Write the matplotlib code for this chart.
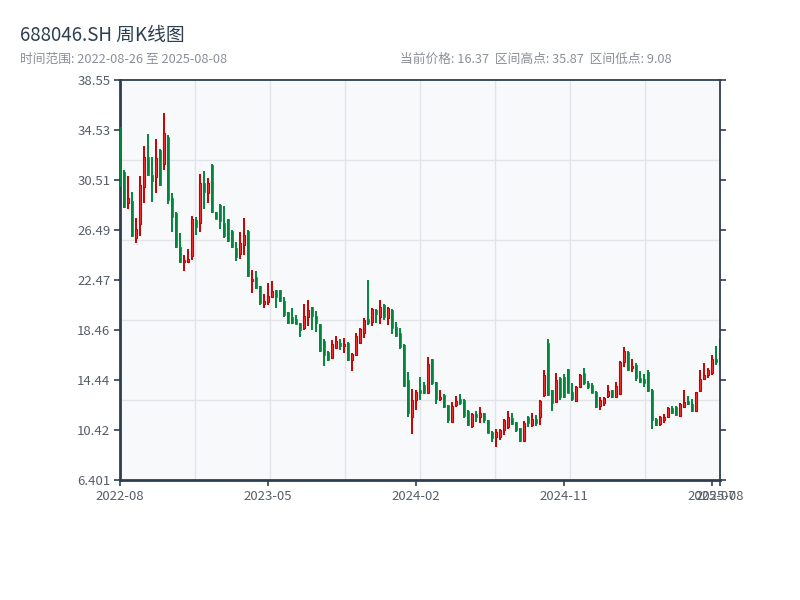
import numpy as np
import pandas as pd
import matplotlib
matplotlib.use("Agg")
import matplotlib.pyplot as plt

plt.rcParams['font.family'] = ['Noto Sans CJK SC', 'DejaVu Sans']

code = "688046.SH"

# weekly bars, weeks with no trading day are missing
closed_weeks = ['2022-10-07', '2023-01-27', '2023-10-06', '2024-02-16']
dates = pd.date_range('2022-08-26', '2025-08-08', freq='W-FRI')
dates = dates[~dates.isin(pd.to_datetime(closed_weeks))]

opens = [34.75, 31.18, 28.69, 28.85, 25.88, 26.98, 29.98, 32.39, 30.91, 30.78,
         32.90, 31.80, 34.00, 29.04, 27.89, 25.15, 23.95, 23.92, 24.43, 27.30,
         27.03, 30.25, 29.44, 31.72, 27.91, 28.53, 27.08, 27.35, 26.44, 25.02,
         24.56, 25.29, 26.44, 22.39, 22.74, 21.99, 20.52, 20.73, 21.13, 21.67,
         21.67, 20.81, 19.90, 19.52, 19.36, 18.99, 18.59, 19.52, 20.30, 19.58,
         18.93, 17.59, 16.71, 16.23, 17.03, 17.43, 17.17, 17.43, 16.04, 16.45,
         17.45, 18.19, 19.31, 19.13, 20.07, 19.53, 20.47, 19.40, 20.07, 18.67,
         18.19, 17.22, 14.44, 11.49, 12.83, 13.64, 14.04, 13.42, 16.10, 14.28,
         12.94, 13.23, 12.40, 11.09, 12.43, 12.88, 12.83, 11.97, 10.74, 11.70,
         11.44, 11.75, 11.22, 10.28, 9.82, 9.88, 10.41, 10.68, 11.35, 11.03,
         10.55, 9.53, 11.48, 10.81, 11.27, 11.48, 13.22, 17.38, 13.63, 12.69,
         14.62, 14.70, 15.29, 13.49, 12.77, 13.90, 15.02, 14.22, 14.03, 13.49,
         12.34, 12.56, 13.14, 13.63, 13.09, 13.28, 15.90, 16.71, 15.37, 15.64,
         14.56, 14.48, 15.10, 13.63, 11.30, 10.89, 11.22, 11.48, 12.21, 12.29,
         11.54, 12.29, 12.77, 12.50, 11.94, 13.55, 14.48, 14.83, 14.97, 16.12,
         15.90]
highs = [34.85, 31.32, 30.83, 29.58, 27.46, 30.83, 33.25, 34.21, 32.39, 33.81,
         33.01, 35.87, 34.13, 29.44, 27.97, 26.25, 24.48, 24.97, 27.62, 27.57,
         30.99, 31.24, 30.65, 31.80, 27.97, 28.58, 28.40, 27.40, 26.49, 25.50,
         26.33, 27.43, 26.49, 23.27, 23.20, 22.00, 21.32, 22.20, 22.39, 21.70,
         21.70, 21.11, 19.93, 20.22, 19.63, 19.04, 20.52, 20.86, 20.33, 19.98,
         18.96, 17.70, 16.74, 17.65, 17.99, 17.73, 17.78, 17.46, 16.58, 18.19,
         18.60, 19.40, 22.48, 20.20, 20.12, 20.87, 20.55, 20.28, 20.15, 19.07,
         18.62, 17.33, 15.08, 13.69, 13.64, 14.65, 14.30, 16.26, 16.13, 14.30,
         13.64, 13.29, 12.45, 12.64, 13.15, 13.31, 12.88, 12.03, 11.76, 11.97,
         12.29, 11.78, 11.25, 10.36, 10.46, 10.52, 11.27, 11.94, 11.81, 11.05,
         10.60, 11.16, 11.54, 11.75, 11.62, 12.82, 15.24, 17.73, 13.66, 14.97,
         14.70, 14.91, 15.32, 14.16, 13.95, 14.91, 15.37, 14.35, 14.16, 13.52,
         13.09, 13.09, 14.03, 13.66, 14.30, 15.96, 17.11, 16.79, 16.12, 15.82,
         15.18, 14.91, 15.24, 13.71, 11.35, 11.54, 11.67, 12.29, 12.34, 12.34,
         12.56, 13.63, 13.14, 12.88, 13.49, 15.24, 15.77, 15.37, 16.44, 17.16,
         17.75]
lows = [29.92, 28.24, 28.16, 25.96, 25.48, 26.01, 28.69, 30.83, 28.77, 29.44,
        30.00, 31.32, 28.56, 26.36, 25.02, 23.81, 23.22, 23.87, 24.08, 26.09,
        26.36, 28.16, 28.69, 27.89, 27.35, 26.55, 25.85, 25.53, 25.07, 24.03,
        24.14, 24.48, 22.74, 21.45, 21.72, 20.46, 20.25, 20.46, 21.08, 20.25,
        20.73, 19.52, 18.91, 18.91, 18.90, 17.92, 18.45, 18.80, 18.45, 18.32,
        16.71, 15.59, 15.96, 16.12, 16.98, 16.84, 16.58, 15.98, 15.16, 16.39,
        17.30, 17.84, 18.86, 18.78, 18.99, 18.94, 19.26, 18.86, 18.14, 17.92,
        16.93, 13.90, 11.46, 10.10, 12.03, 12.83, 13.31, 13.31, 14.04, 12.51,
        12.78, 12.21, 11.01, 11.03, 12.24, 12.43, 11.36, 10.77, 10.55, 11.09,
        11.01, 10.95, 10.14, 9.47, 9.08, 9.61, 10.04, 10.46, 10.81, 10.28,
        9.47, 9.47, 10.68, 10.68, 10.73, 10.81, 13.09, 13.14, 11.97, 12.61,
        12.82, 12.96, 13.36, 12.77, 12.69, 13.84, 14.03, 13.68, 13.36, 12.21,
        12.02, 12.37, 13.01, 13.01, 13.01, 13.22, 15.45, 15.18, 15.10, 14.35,
        14.22, 13.84, 13.49, 10.46, 10.73, 10.73, 10.95, 11.43, 11.67, 11.54,
        11.48, 12.15, 12.42, 11.89, 11.89, 13.49, 14.43, 14.56, 14.83, 15.64,
        15.55]
closes = [30.05, 28.37, 29.04, 26.01, 26.57, 30.11, 32.36, 30.89, 30.46, 32.26,
          30.10, 34.26, 28.90, 27.57, 25.10, 23.95, 24.08, 24.14, 27.38, 26.76,
          30.25, 29.58, 30.30, 27.97, 27.41, 27.24, 26.01, 25.61, 25.15, 24.35,
          25.42, 26.09, 22.79, 22.55, 21.80, 20.60, 20.81, 21.19, 21.59, 21.13,
          20.81, 19.66, 18.99, 18.99, 18.95, 18.45, 19.58, 20.06, 19.58, 18.99,
          16.79, 16.44, 16.04, 17.30, 17.57, 17.19, 17.30, 16.02, 16.50, 18.00,
          18.50, 19.26, 19.05, 20.12, 19.72, 20.33, 19.53, 20.20, 18.59, 17.98,
          17.12, 13.96, 11.76, 12.83, 13.50, 13.42, 13.42, 15.70, 14.17, 12.88,
          13.10, 12.29, 11.22, 12.35, 12.78, 12.56, 11.54, 10.82, 11.70, 11.49,
          11.81, 11.22, 10.20, 9.74, 10.28, 10.41, 11.22, 11.48, 10.87, 10.41,
          9.53, 10.95, 10.95, 11.27, 10.95, 12.77, 14.83, 13.22, 12.55, 14.43,
          13.09, 13.09, 13.41, 12.88, 13.90, 14.83, 14.16, 13.90, 13.41, 12.25,
          12.82, 12.96, 13.55, 13.09, 13.95, 15.85, 16.79, 15.24, 15.58, 14.56,
          14.30, 14.16, 13.55, 11.22, 10.81, 11.43, 11.43, 12.15, 11.81, 11.62,
          12.50, 12.69, 12.50, 11.97, 13.44, 14.48, 14.83, 15.24, 16.09, 15.90,
          16.37]

up_edge = '#c80000'
up_fill = '#f03232'
down_col = '#00873c'
dark = '#2c3e50'

n = len(closes)
x = np.arange(n)
o = np.array(opens)
h = np.array(highs)
l = np.array(lows)
c = np.array(closes)
up = c >= o

fig = plt.figure(figsize=(8, 6), dpi=100)
ax = fig.add_axes([0.15, 0.2, 0.75, 2 / 3])
ax.set_facecolor('#f7f9fb')

lo, hi = l.min(), h.max()
pad = (hi - lo) * 0.1
ymin, ymax = lo - pad, hi + pad
ax.set_xlim(0, n - 1)
ax.set_ylim(ymin, ymax)

# background grid
for k in range(1, 8):
    ax.axvline((n - 1) * k / 8, color='#e1e4e9', lw=1, zorder=0)
for k in range(1, 5):
    ax.axhline(ymin + (ymax - ymin) * k / 5, color='#e1e4e9', lw=1, zorder=0)

# wicks
ax.vlines(x[up], l[up], h[up], color=up_edge, lw=1.4, zorder=2)
ax.vlines(x[~up], l[~up], h[~up], color=down_col, lw=1.4, zorder=2)
# bodies
ax.bar(x[up], np.maximum(c[up] - o[up], 0.03), bottom=o[up], width=0.72,
       color=up_fill, edgecolor=up_edge, linewidth=0.8, zorder=3)
ax.bar(x[~up], np.maximum(o[~up] - c[~up], 0.03), bottom=c[~up], width=0.72,
       color=down_col, edgecolor=down_col, linewidth=0.5, zorder=3)

yt = np.linspace(ymin, ymax, 9)
ax.set_yticks(yt)
ax.set_yticklabels([f"{v:.4g}" for v in yt])

step = n // 4
xt = list(range(0, n, step)) + [n - 1]
ax.set_xticks(xt)
ax.set_xticklabels([dates[i].strftime('%Y-%m') for i in xt])

ax.tick_params(axis='both', colors=dark, labelcolor='#555e69', labelsize=9.5,
               length=4, width=1.2, right=True)
ax.tick_params(axis='y', pad=3)
for side in ['left', 'bottom']:
    ax.spines[side].set_linewidth(2)
    ax.spines[side].set_color(dark)
for side in ['top', 'right']:
    ax.spines[side].set_linewidth(1.3)
    ax.spines[side].set_color(dark)

fig.text(0.025, 1 - 35 / 600, f"{code} 周K线图", fontsize=13.5, color=dark, va='center')
fig.text(0.025, 1 - 59 / 600,
         f"时间范围: {dates[0]:%Y-%m-%d} 至 {dates[-1]:%Y-%m-%d}",
         fontsize=9.2, color='#8a9099', va='center')
fig.text(0.5, 1 - 59 / 600,
         f"当前价格: {c[-1]:.2f}  区间高点: {hi:.2f}  区间低点: {lo:.2f}",
         fontsize=9.2, color='#8a9099', va='center')

fig.savefig('out.png', dpi=100)
